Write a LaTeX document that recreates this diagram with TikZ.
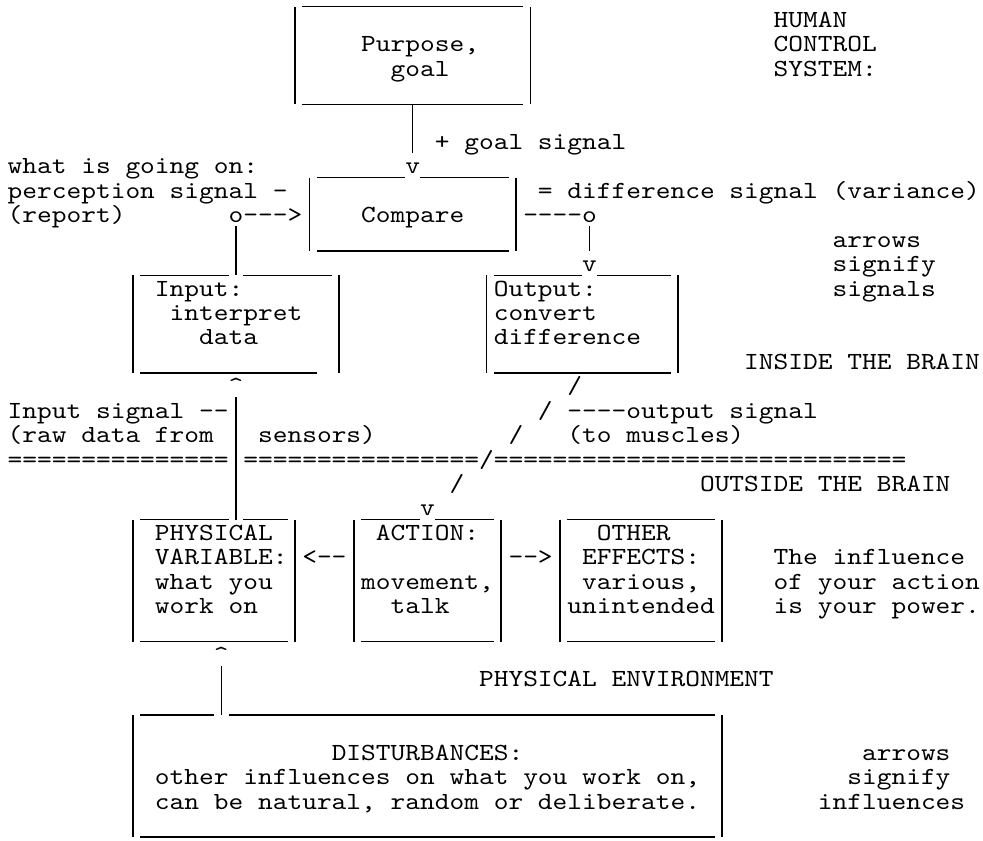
\documentclass[tikz,border=0pt]{standalone}
\usepackage{fontspec}
\usepackage{tikz}
\newfontfamily\asciifont{lmmono10-regular.otf}[FakeStretch=1.14]
\newcommand{\asc}{\asciifont\fontsize{12pt}{14pt}\selectfont}
\newlength{\chw}
\newlength{\rowh}
% one text column / one text row is the grid unit
\newcommand{\vl}[3]{\draw[ln] (#1+0.5,#2-0.85) -- (#1+0.5,#3+0.15);}
\newcommand{\hl}[3]{\draw[ln] (#2,#1+0.15) -- (#3+1,#1+0.15);}
\newcommand{\rep}[2]{\foreach \n in {1,...,#1}{#2}}
\tikzset{txt/.style={anchor=base west, inner sep=0pt, outer sep=0pt, font=\asc},
         ln/.style={line width=0.65pt}}

\begin{document}
\settowidth{\chw}{\asc M}
\setlength{\rowh}{1.658\chw}
\begin{tikzpicture}[x=\chw, y=-\rowh]
\useasboundingbox (-0.52,-0.123) rectangle (66.21,34.28);
% purpose
\hl{0}{20}{34} \hl{4}{20}{34} \vl{19}{1}{4} \vl{35}{1}{4}
\node[txt] (purpose) at (24,2) {Purpose,};
\node[txt] (goal) at (26,3) {goal};
\node[txt] (human) at (52,1) {HUMAN};
\node[txt] (control) at (52,2) {CONTROL};
\node[txt] (system) at (52,3) {SYSTEM:};
\vl{27}{5}{6}
\node[txt] (gsig) at (29,6) {+ goal signal};
\node[txt] (gv) at (27,7) {v};
% compare
\hl{7}{21}{26} \hl{7}{28}{33} \hl{10}{21}{33} \vl{20}{8}{10} \vl{34}{8}{10}
\node[txt] (cmp) at (24,9) {Compare};
\node[txt] (what) at (0,7) {what is going on:};
\node[txt] (perc) at (0,8) {perception signal -};
\node[txt] (rep) at (0,9) {(report)};
\node[txt] (po) at (15,9) {o{-}{-}{-}>};
\node[txt] (diff) at (36,8) {= difference signal (variance)};
\node[txt] (dout) at (35,9) {{-}{-}{-}{-}o};
\vl{15}{10}{11} \vl{39}{10}{10}
\node[txt] (arr1) at (56,10) {arrows};
\node[txt] (sig1) at (56,11) {signify};
\node[txt] (sig2) at (56,12) {signals};
% input / output
\hl{11}{9}{14} \hl{11}{16}{21} \hl{15}{9}{20} \vl{8}{12}{15} \vl{22}{12}{15}
\node[txt] (inp) at (10,12) {Input:};
\node[txt] (interp) at (11,13) {interpret};
\node[txt] (data) at (13,14) {data};
\hl{11}{33}{38} \hl{11}{40}{44} \hl{15}{33}{44} \vl{32}{12}{15} \vl{45}{12}{15}
\node[txt] (ov) at (39,11) {v};
\node[txt] (outp) at (33,12) {Output:};
\node[txt] (conv) at (33,13) {convert};
\node[txt] (odiff) at (33,14) {difference};
\node[txt] (inside) at (50,15) {INSIDE THE BRAIN};
% brain border
\node[txt] (iup) at (15,16) {\textasciicircum};
\node[txt] (s1) at (38,16) {/};
\node[txt] (isig) at (0,17) {Input signal {-}{-}};
\node[txt] (s2) at (36,17) {/};
\node[txt] (osig) at (38,17) {{-}{-}{-}{-}output signal};
\node[txt] (raw) at (0,18) {(raw data from};
\node[txt] (sens) at (17,18) {sensors)};
\node[txt] (s3) at (34,18) {/};
\node[txt] (musc) at (38,18) {(to muscles)};
\node[txt] (eq1) at (0,19) {\rep{15}{=}};
\node[txt] (eq2) at (16,19) {\rep{16}{=}};
\node[txt] (s4) at (32,19) {/};
\node[txt] (eq3) at (33,19) {\rep{28}{=}};
\node[txt] (s5) at (30,20) {/};
\node[txt] (outside) at (47,20) {OUTSIDE THE BRAIN};
\vl{15}{17}{21}
% environment boxes
\hl{21}{9}{14} \hl{21}{16}{18} \hl{26}{9}{18} \vl{8}{22}{26} \vl{19}{22}{26}
\node[txt] (phys) at (10,22) {PHYSICAL};
\node[txt] (var) at (10,23) {VARIABLE:};
\node[txt] (whatyou) at (10,24) {what you};
\node[txt] (workon) at (10,25) {work on};
\hl{21}{24}{27} \hl{21}{29}{32} \hl{26}{24}{32} \vl{23}{22}{26} \vl{33}{22}{26}
\node[txt] (av) at (28,21) {v};
\node[txt] (act) at (25,22) {ACTION:};
\node[txt] (move) at (24,24) {movement,};
\node[txt] (talk) at (26,25) {talk};
\node[txt] (larr) at (20,23) {<{-}{-}};
\node[txt] (rarr) at (34,23) {{-}{-}>};
\hl{21}{38}{47} \hl{26}{38}{47} \vl{37}{22}{26} \vl{48}{22}{26}
\node[txt] (other) at (40,22) {OTHER};
\node[txt] (eff) at (39,23) {EFFECTS:};
\node[txt] (vari) at (39,24) {various,};
\node[txt] (unint) at (38,25) {unintended};
\node[txt] (infl1) at (52,23) {The influence};
\node[txt] (infl2) at (52,24) {of your action};
\node[txt] (infl3) at (52,25) {is your power.};
% disturbances
\node[txt] (dup) at (14,27) {\textasciicircum};
\vl{14}{28}{29}
\node[txt] (env) at (32,28) {PHYSICAL ENVIRONMENT};
\hl{29}{9}{13} \hl{29}{15}{47} \hl{34}{9}{47} \vl{8}{30}{34} \vl{48}{30}{34}
\node[txt] (dist) at (22,31) {DISTURBANCES:};
\node[txt] (dist1) at (10,32) {other influences on what you work on,};
\node[txt] (dist2) at (10,33) {can be natural, random or deliberate.};
\node[txt] (arr2) at (58,31) {arrows};
\node[txt] (sig3) at (57,32) {signify};
\node[txt] (sig4) at (55,33) {influences};
\end{tikzpicture}
\end{document}
